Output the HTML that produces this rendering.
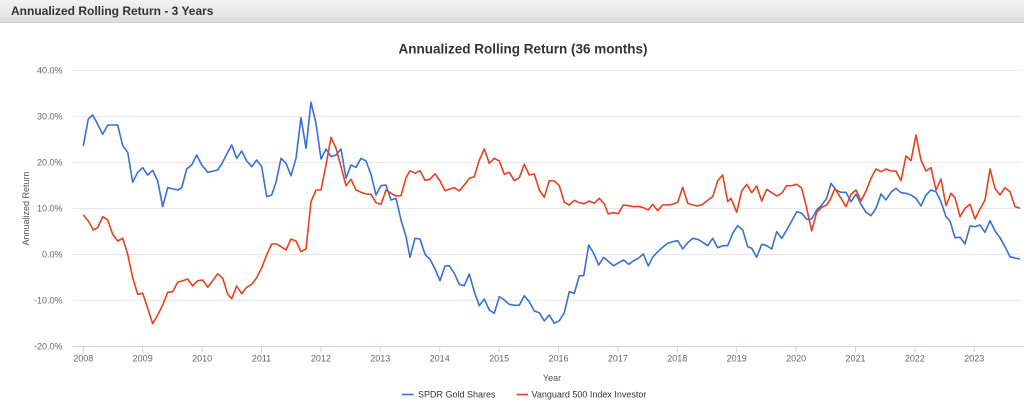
<!DOCTYPE html>
<html>
<head>
<meta charset="utf-8">
<style>
  html,body{margin:0;padding:0;background:#fff;}
  body{width:1024px;height:406px;overflow:hidden;position:relative;font-family:"Liberation Sans",Arial,sans-serif;}
  .hdr{position:absolute;left:0;top:0;width:1024px;height:22px;background:linear-gradient(#f3f3f3,#dedede);border-bottom:1px solid #cfcfcf;}
  .hdr span{position:absolute;left:11px;top:4px;font-size:12px;font-weight:bold;color:#333;}
  svg{position:absolute;left:0;top:0;}
</style>
</head>
<body>
<div class="hdr"><span>Annualized Rolling Return - 3 Years</span></div>
<svg width="1024" height="406" viewBox="0 0 1024 406" xmlns="http://www.w3.org/2000/svg" font-family="Liberation Sans, Arial, sans-serif">
  <text x="523" y="53.5" text-anchor="middle" font-size="13.5" font-weight="bold" fill="#333">Annualized Rolling Return (36 months)</text>
  <!-- gridlines -->
  <g stroke="#e8e8e8" stroke-width="1">
    <line x1="73" y1="70.5" x2="1022" y2="70.5"/>
    <line x1="73" y1="116.5" x2="1022" y2="116.5"/>
    <line x1="73" y1="162.5" x2="1022" y2="162.5"/>
    <line x1="73" y1="208.5" x2="1022" y2="208.5"/>
    <line x1="73" y1="254.5" x2="1022" y2="254.5"/>
    <line x1="73" y1="300.5" x2="1022" y2="300.5"/>
  </g>
  <!-- x axis -->
  <line x1="73" y1="346.5" x2="1024" y2="346.5" stroke="#ccd6eb" stroke-width="1"/>
  <g stroke="#ccd6eb" stroke-width="1">
    <line x1="83.3" y1="346.5" x2="83.3" y2="352.5"/>
    <line x1="142.7" y1="346.5" x2="142.7" y2="352.5"/>
    <line x1="202.1" y1="346.5" x2="202.1" y2="352.5"/>
    <line x1="261.5" y1="346.5" x2="261.5" y2="352.5"/>
    <line x1="320.9" y1="346.5" x2="320.9" y2="352.5"/>
    <line x1="380.3" y1="346.5" x2="380.3" y2="352.5"/>
    <line x1="439.7" y1="346.5" x2="439.7" y2="352.5"/>
    <line x1="499.1" y1="346.5" x2="499.1" y2="352.5"/>
    <line x1="558.5" y1="346.5" x2="558.5" y2="352.5"/>
    <line x1="617.9" y1="346.5" x2="617.9" y2="352.5"/>
    <line x1="677.3" y1="346.5" x2="677.3" y2="352.5"/>
    <line x1="736.7" y1="346.5" x2="736.7" y2="352.5"/>
    <line x1="796.1" y1="346.5" x2="796.1" y2="352.5"/>
    <line x1="855.5" y1="346.5" x2="855.5" y2="352.5"/>
    <line x1="914.9" y1="346.5" x2="914.9" y2="352.5"/>
    <line x1="974.3" y1="346.5" x2="974.3" y2="352.5"/>
  </g>
  <g font-size="9" fill="#666" text-anchor="middle">
    <text x="83.3" y="361.5">2008</text>
    <text x="142.7" y="361.5">2009</text>
    <text x="202.1" y="361.5">2010</text>
    <text x="261.5" y="361.5">2011</text>
    <text x="320.9" y="361.5">2012</text>
    <text x="380.3" y="361.5">2013</text>
    <text x="439.7" y="361.5">2014</text>
    <text x="499.1" y="361.5">2015</text>
    <text x="558.5" y="361.5">2016</text>
    <text x="617.9" y="361.5">2017</text>
    <text x="677.3" y="361.5">2018</text>
    <text x="736.7" y="361.5">2019</text>
    <text x="796.1" y="361.5">2020</text>
    <text x="855.5" y="361.5">2021</text>
    <text x="914.9" y="361.5">2022</text>
    <text x="974.3" y="361.5">2023</text>
  </g>
  <g font-size="9" fill="#666" text-anchor="end">
    <text x="62.5" y="73.5">40.0%</text>
    <text x="62.5" y="119.5">30.0%</text>
    <text x="62.5" y="165.5">20.0%</text>
    <text x="62.5" y="211.5">10.0%</text>
    <text x="62.5" y="257.5">0.0%</text>
    <text x="62.5" y="303.5">-10.0%</text>
    <text x="62.5" y="349.5">-20.0%</text>
  </g>
  <text x="552" y="381" text-anchor="middle" font-size="9" fill="#555">Year</text>
  <text transform="translate(29,208.5) rotate(-90)" text-anchor="middle" font-size="9" fill="#555">Annualized Return</text>

  <!-- series -->
  <polyline fill="none" stroke="#3a6fd8" stroke-width="1.6" stroke-linejoin="round" points="83.3,146 88.3,119 92.7,115 97.7,124.3 102.7,134.3 107.7,125 117.7,125 122.7,145.7 127.7,152.3 132.7,182.3 137.7,172.3 142.7,167.7 147.7,175 152.7,170.3 157.7,181 162.7,206.7 167.7,187.7 177.7,190 181.7,187.7 186.7,169 191.7,165 196.7,155 201.7,165 207.7,172.3 217.7,170 221.7,164 226.7,154.3 231.7,145 236.7,158.3 241.7,151 246.7,161 251.7,166.7 256.7,160 261.7,166.7 266.7,196.7 271.7,195 276,182.3 281,158.3 286,163.3 291,175.7 296,158.3 301,117.7 306,148.3 311,102.3 316,123.3 321,159 326,149 331,156.7 336,155 341,149 346,178.3 351,165 356,167.3 361,158.3 366,161 371,174.3 376,195 381,185.7 386,185 391,200 396,198.3 401,220 406,236.7 410,257.3 415,238.3 420,239 425,254.3 430,259.3 435,269 440,280.7 445,266 449.3,265.7 454.3,273.3 459.3,284.3 464.3,285.7 469.3,274 474.3,291.7 479.3,305.7 484.3,299 489.3,310 494.3,313.3 499.3,296.7 504.3,300 509.3,304.3 514.3,305.3 519.3,305.3 524.3,295.7 529.3,301.7 534.3,311 539.3,312.7 544.3,321 549.3,315 554.3,323.3 559.3,320.7 564.3,312.7 569.3,291.7 574.3,293.3 579.3,275.7 583.7,275.7 588.7,245 593.7,253.3 598.7,265 603.7,257.3 608.7,261.7 613.7,265.7 618.7,262.7 623.7,260 628.7,264.3 633.3,261 638.3,258.3 643.3,254 648.3,266 652.7,257.3 657.7,251.7 662.7,247.3 667.7,243.3 672.7,241.7 677.7,240.7 682.7,249 687.7,242.7 692.7,238.3 697.7,239.3 702.7,242.3 707.7,245.7 712.7,238.3 717.7,247.7 722.7,245.7 727.7,245.7 732.7,233.3 737.7,225.7 742.7,230 747.7,246.7 751.7,248.3 756.7,257.3 761.7,244.3 766.7,245.7 771.7,249 776.7,231.7 781.7,238.3 786.7,230 791.7,221 796.7,211.7 801.7,213.3 806.7,219.3 811.7,219 816.7,210 821.7,205 826.7,198.3 831,183.3 836,190 841,192.3 846,192.3 851,201.7 856,194.3 861,204.3 866,212.3 871,215.7 876,208.3 881,194 886,200 891,192.3 896,188.3 901,192.7 906,193.3 911,195 916,198.3 921,206 926,195 931,190 936,191.7 941,201.7 946,216.7 950,221 955,237.7 960,237.3 965,244 970,226 975,226.7 980,225 985,232.3 990,220.7 995,231 1000,237.7 1005,246.7 1010,256.7 1015,258 1020,259"/>
  <polyline fill="none" stroke="#e8411f" stroke-width="1.6" stroke-linejoin="round" points="83.3,215 88.3,221 93.3,230 97.7,227.7 102.7,216.7 107.7,220 112.7,234.3 117.7,241 122.7,238.3 127.7,254.3 132.7,277.7 137.7,294.3 142.7,293.3 147.7,308.3 152.7,323.7 157.7,315 162.7,305 167.7,292.3 172.7,291.7 177.7,282.3 182.7,280.7 187.7,279 192.7,286 197.7,280.7 202.7,280 207.7,287.3 212.7,280.7 217.7,273.7 222.7,278.3 227.7,294.3 231.7,298.7 236.7,286 241.7,293.7 246.7,287.3 251.7,284.3 256.7,277.7 261.7,267.7 266.7,255 271.7,244 276.7,244 281,246.7 286,250 291,239 296,241 301,251.7 306,249 311,201.7 316,190 321,190 326,165 331,137.3 336,148.3 341,166.7 346,185.7 351,179.3 356,190 361,192.3 366,194 371,194.3 376,202.7 381,204.3 386,190 391,193.3 396,196 401,195.7 406,177.7 410,170.7 415,173.3 420,170.7 425,180.3 430,179.3 435,173.7 440,181 445,190.7 450,189 454.3,187.7 459.3,191 464.3,185 469.3,178.3 474.3,176.7 479.3,160 484.3,149 489.3,163.3 494.3,158.3 499.3,161 504.3,174.3 509.3,172.3 514.3,180.7 519.3,177.7 524.3,164.3 529.3,175 534.3,174 539.3,190 544.3,197.3 549.3,180.7 554.3,181 559.3,185.7 564.3,202.3 569.3,205 574.3,200.3 579.3,202.7 584.3,203.7 589.3,201 594.3,203.3 599.3,198.3 604.3,204 608.3,214 613.3,212.7 618.3,213.7 623.3,205 628.3,205.7 633.3,206.7 638.3,206.3 643.3,207.7 648.3,210 652.7,204.3 657.7,210.7 662.7,205 667.7,205 672.7,204.3 677.7,202.3 682.7,187.3 687.7,203.3 692.7,205 697.7,206 702.7,204.3 707.7,200.3 712.7,196.7 717.7,180.7 722.7,175 727.7,201.7 731,198.3 736.7,212.3 741.7,191 746.7,184.3 751.7,192.7 756.7,186 761.7,201 766.7,189.3 771.7,192.7 776.7,196 781.7,193.3 786.7,185.7 791.7,185.7 796.7,184.3 801.7,188.3 806.7,208.3 811.7,231 816.7,212.3 821.7,207.3 826.7,205 830,200 835,188.3 841,198.3 846,206.7 851,194.3 856,190 861,201 866,191 871,178.3 876,169 881,171.7 886,169 891,171 896,171 901,180.7 906,156 911,160.7 916,135 921,160 926,171 931,167.7 936,190 941,179 946,205.7 951,193.3 955,197.7 960,216.7 965,208.3 970,204.3 975,219 980,209 985,200 990,169 995,188.3 1000,195 1005,187.7 1010,191.7 1015,206.7 1020,208.3"/>

  <!-- legend -->
  <line x1="402" y1="394.5" x2="413.5" y2="394.5" stroke="#3a6fd8" stroke-width="1.6"/>
  <text x="418" y="397.5" font-size="9" fill="#333">SPDR Gold Shares</text>
  <line x1="516.5" y1="394.5" x2="528" y2="394.5" stroke="#e8411f" stroke-width="1.6"/>
  <text x="531.5" y="397.5" font-size="9" fill="#333">Vanguard 500 Index Investor</text>
</svg>
</body>
</html>
